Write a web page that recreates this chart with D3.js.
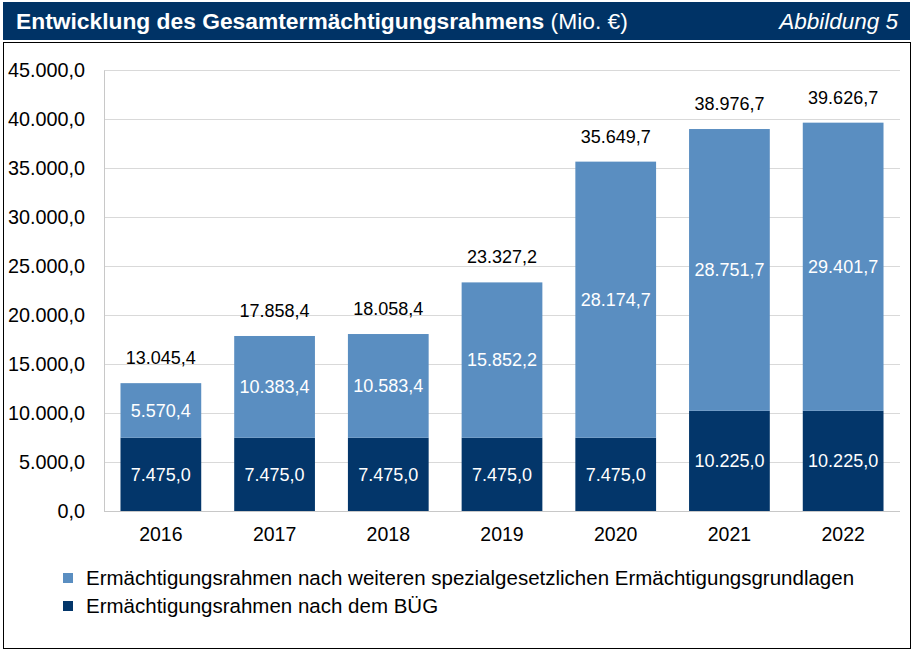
<!DOCTYPE html>
<html lang="de">
<head>
    <meta charset="UTF-8">
    <title>Gesamtermächtigungsrahmen</title>
    <script src="https://d3js.org/d3.v7.min.js"></script>
    <style>
        * { margin: 0; padding: 0; box-sizing: border-box; }
        body { background: #ffffff; font-family: "Liberation Sans", Arial, sans-serif; }
        svg { display: block; }
    </style>
</head>
<body>
    <div id="chart"></div>
    <script>
        // Daten (Mio. €)
        const jahre = ["2016", "2017", "2018", "2019", "2020", "2021", "2022"];
        const buegWerte = [7475.0, 7475.0, 7475.0, 7475.0, 7475.0, 10225.0, 10225.0];
        const weitereWerte = [5570.4, 10383.4, 10583.4, 15852.2, 28174.7, 28751.7, 29401.7];
        const gesamtWerte = [13045.4, 17858.4, 18058.4, 23327.2, 35649.7, 38976.7, 39626.7];
        const yTicks = [0, 5000, 10000, 15000, 20000, 25000, 30000, 35000, 40000, 45000];
        const legendeTexte = [
            "Ermächtigungsrahmen nach weiteren spezialgesetzlichen Ermächtigungsgrundlagen",
            "Ermächtigungsrahmen nach dem BÜG"
        ];

        const dunkel = "#03366a";
        const hell = "#5a8ec1";

        const de = d3.formatLocale({ decimal: ",", thousands: ".", grouping: [3], currency: ["", " €"] });
        const fmt = de.format(",.1f");

        const W = 915, H = 653;
        const svg = d3.select("#chart").append("svg")
            .attr("width", W).attr("height", H);

        // Titelleiste
        svg.append("rect")
            .attr("x", 3).attr("y", 2).attr("width", 907).attr("height", 38)
            .attr("fill", "#003366");
        const titel = svg.append("text")
            .attr("x", 16).attr("y", 29)
            .attr("fill", "#fff").style("font-size", "22.8px");
        titel.append("tspan").attr("font-weight", "bold").text("Entwicklung des Gesamtermächtigungsrahmens");
        titel.append("tspan").text(" (Mio. €)");
        svg.append("text")
            .attr("x", 898).attr("y", 29)
            .attr("text-anchor", "end")
            .attr("fill", "#fff")
            .style("font-size", "22.5px").style("font-style", "italic")
            .text("Abbildung 5");

        // Rahmen
        svg.append("rect")
            .attr("x", 3.5).attr("y", 42.5).attr("width", 907).attr("height", 606)
            .attr("fill", "none").attr("stroke", "#000").attr("stroke-width", 1);

        // Skalen
        const x = d3.scaleBand().domain(jahre).range([104, 900]).paddingInner(0.29).paddingOuter(0.145);
        const y = d3.scaleLinear().domain([0, 45000]).range([511, 70]);

        // Gitterlinien
        svg.append("g").selectAll("line")
            .data(yTicks.filter(d => d > 0))
            .join("line")
            .attr("x1", 104).attr("x2", 900)
            .attr("y1", d => Math.round(y(d)) + 0.5).attr("y2", d => Math.round(y(d)) + 0.5)
            .attr("stroke", "#d9d9d9").attr("stroke-width", 1);

        // y-Achse
        const yAxis = svg.append("g")
            .attr("transform", "translate(104,0)")
            .call(d3.axisLeft(y).tickValues(yTicks).tickFormat(fmt).tickSize(0).tickPadding(19));
        yAxis.select(".domain").attr("stroke", "#c8c8c8");
        yAxis.selectAll("text").style("font-size", "19.8px").attr("fill", "#000")
            .style("font-family", "'Liberation Sans', Arial, sans-serif");

        // Balken
        const daten = jahre.map((j, i) => ({ jahr: j, bueg: buegWerte[i], weitere: weitereWerte[i], gesamt: gesamtWerte[i] }));

        svg.append("g").selectAll("rect")
            .data(daten)
            .join("rect")
            .attr("x", d => x(d.jahr)).attr("width", x.bandwidth())
            .attr("y", d => y(d.bueg)).attr("height", d => y(0) - y(d.bueg))
            .attr("fill", dunkel);

        svg.append("g").selectAll("rect")
            .data(daten)
            .join("rect")
            .attr("x", d => x(d.jahr)).attr("width", x.bandwidth())
            .attr("y", d => y(d.bueg + d.weitere)).attr("height", d => y(d.bueg) - y(d.bueg + d.weitere))
            .attr("fill", hell);

        // x-Achse
        const xAxis = svg.append("g")
            .attr("transform", "translate(0,511)")
            .call(d3.axisBottom(x).tickSize(0).tickPadding(16));
        xAxis.select(".domain").attr("stroke", "#c8c8c8").attr("d", "M104,0.5H900");
        xAxis.selectAll("text").style("font-size", "19.5px").attr("fill", "#000")
            .style("font-family", "'Liberation Sans', Arial, sans-serif");

        // Beschriftungen
        const lbl = svg.append("g").style("font-size", "18px").attr("text-anchor", "middle");
        lbl.selectAll(".l-bueg")
            .data(daten)
            .join("text")
            .attr("class", "l-bueg")
            .attr("x", d => x(d.jahr) + x.bandwidth() / 2)
            .attr("y", d => (y(0) + y(d.bueg)) / 2)
            .attr("dy", "0.35em")
            .attr("fill", "#fff")
            .text(d => fmt(d.bueg));
        lbl.selectAll(".l-weitere")
            .data(daten)
            .join("text")
            .attr("class", "l-weitere")
            .attr("x", d => x(d.jahr) + x.bandwidth() / 2)
            .attr("y", d => (y(d.bueg) + y(d.bueg + d.weitere)) / 2)
            .attr("dy", "0.35em")
            .attr("fill", "#fff")
            .text(d => fmt(d.weitere));
        lbl.selectAll(".l-gesamt")
            .data(daten)
            .join("text")
            .attr("class", "l-gesamt")
            .attr("x", d => x(d.jahr) + x.bandwidth() / 2)
            .attr("y", d => y(d.gesamt) - 19)
            .attr("fill", "#000")
            .text(d => fmt(d.gesamt));

        // Legende
        const legende = svg.append("g");
        const leg = legende.selectAll("g")
            .data(legendeTexte)
            .join("g")
            .attr("transform", (d, i) => `translate(63,${578 + i * 28})`);
        leg.append("rect")
            .attr("x", 0).attr("y", -5).attr("width", 10).attr("height", 10)
            .attr("fill", (d, i) => i === 0 ? hell : dunkel);
        leg.append("text")
            .attr("x", 23).attr("dy", "0.35em")
            .style("font-size", "20.5px")
            .attr("fill", "#000")
            .text(d => d);
    </script>
</body>
</html>
